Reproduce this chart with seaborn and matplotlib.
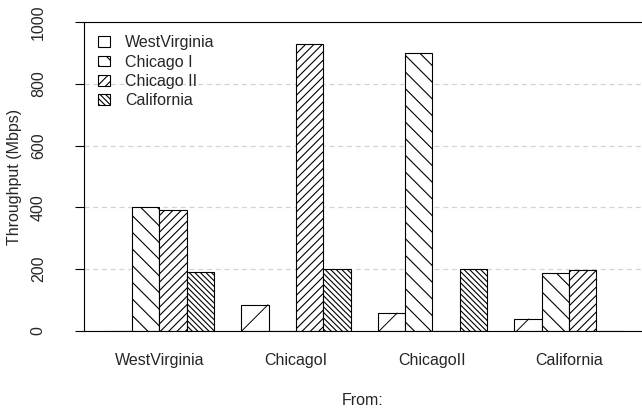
import matplotlib
matplotlib.use('Agg')
import matplotlib.pyplot as plt
from matplotlib.patches import Patch
from matplotlib.lines import Line2D
import seaborn as sns
import pandas as pd
import numpy as np

# throughput (Mbps) from each source site to each destination
sources = ['WestVirginia', 'ChicagoI', 'ChicagoII', 'California']
dest_labels = ['WestVirginia', 'Chicago I', 'Chicago II', 'California']
to_westvirginia = [0, 85, 58, 39]
to_chicago1 = [400, 0, 900, 188]
to_chicago2 = [390, 930, 0, 197]
to_california = [190, 200, 200, 0]
y_ticks = [0, 200, 400, 600, 800, 1000]

series = [to_westvirginia, to_chicago1, to_chicago2, to_california]
rows = []
for dest, vals in zip(dest_labels, series):
    for src, v in zip(sources, vals):
        rows.append({'From': src, 'To': dest, 'Throughput': v})
df = pd.DataFrame(rows)

sns.set_style('white')
plt.rcParams['font.family'] = ['Liberation Sans', 'DejaVu Sans']
plt.rcParams['hatch.color'] = 'black'
plt.rcParams['hatch.linewidth'] = 0.8
FS = 11.5

fig = plt.figure(figsize=(6.42, 4.11), dpi=100)
ax = fig.add_axes([84 / 642, 80 / 411, 558 / 642, 309 / 411])

sns.barplot(data=df, x='From', y='Throughput', hue='To', order=sources,
            hue_order=dest_labels, palette=['white'] * 4, saturation=1,
            edgecolor='black', linewidth=0.8, errorbar=None, legend=False,
            width=0.8, ax=ax)

hatches = ['', '\\\\', '////', '\\\\\\\\\\\\']
for cont, h in zip(ax.containers, hatches):
    for bar in cont:
        bar.set_hatch(h)

ax.set_xlim(-0.553, 3.535)
ax.set_ylim(0, 1000)

# very sparse 45 degree lines for the WestVirginia bars (fixed on the page)
inv = ax.transData.inverted()
for bar in ax.containers[0]:
    if bar.get_height() <= 0:
        continue
    x0, y0 = bar.get_x(), bar.get_y()
    (px0, py0), (px1, py1) = ax.transData.transform(
        [(x0, y0), (x0 + bar.get_width(), y0 + bar.get_height())])
    for k in range(-2, 8):
        c = 161.7 + 137.5 * k
        xa = max(px0, py0 + c)
        xb = min(px1, py1 + c)
        if xb <= xa:
            continue
        d = inv.transform([(xa, xa - c), (xb, xb - c)])
        ax.add_line(Line2D(d[:, 0], d[:, 1], color='black', lw=0.7))

ax.set_yticks(y_ticks)
ax.set_yticklabels([str(t) for t in y_ticks], rotation=90, va='center', fontsize=FS)
ax.tick_params(axis='y', length=6.5, width=0.8, pad=21, color='black', left=True)
ax.tick_params(axis='x', length=0, pad=16, labelsize=FS)
ax.set_xlabel('From:', fontsize=FS, labelpad=18)
ax.set_ylabel('Throughput (Mbps)', fontsize=FS, labelpad=6)

for s in ['left', 'top', 'bottom']:
    ax.spines[s].set_visible(True)
    ax.spines[s].set_color('black')
    ax.spines[s].set_linewidth(0.8)
ax.spines['right'].set_visible(False)

ax.set_axisbelow(True)
ax.yaxis.grid(True, color='#d3d3d3', linestyle=(0, (4, 3)), linewidth=0.9)
ax.xaxis.grid(False)

handles = [Patch(facecolor='white', edgecolor='black', hatch=h, linewidth=0.8)
           for h in hatches]
ax.legend(handles, dest_labels, loc='upper left', bbox_to_anchor=(0.025, 0.957),
          frameon=False, fontsize=FS, handlelength=0.75, handleheight=0.65,
          handletextpad=0.95, labelspacing=0.27, borderpad=0, borderaxespad=0)

fig.savefig('out.png', dpi=100)
